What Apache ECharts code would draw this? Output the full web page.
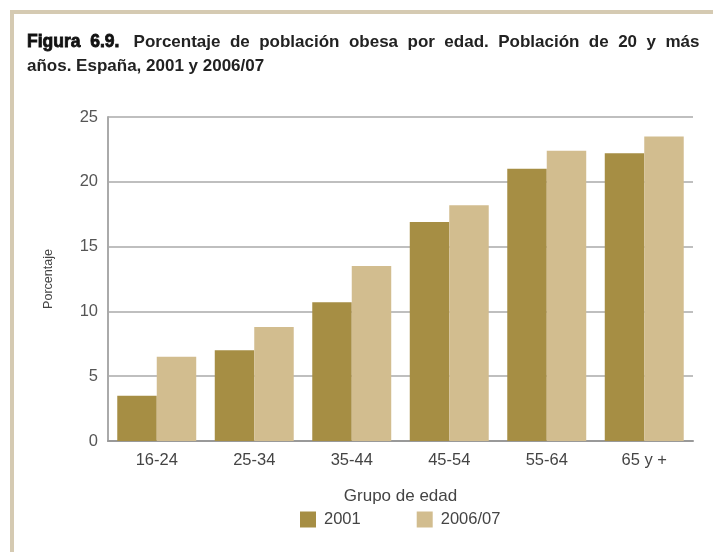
<!DOCTYPE html>
<html>
<head>
<meta charset="utf-8">
<script src="https://cdn.jsdelivr.net/npm/echarts@6/dist/echarts.min.js"></script>
<style>
html,body{margin:0;padding:0;background:#fff;}
#c{width:713px;height:552px;}
</style>
</head>
<body>
<div id="c"></div>
<script>
const categories = ['16-24', '25-34', '35-44', '45-54', '55-64', '65 y +'];
const values2001 = [3.5, 7.0, 10.7, 16.9, 21.0, 22.2];
const values2006 = [6.5, 8.8, 13.5, 18.2, 22.4, 23.5];
const seriesNames = ['2001', '2006/07'];
const yTicks = [0, 5, 10, 15, 20, 25];

const chart = echarts.init(document.getElementById('c'), null, {renderer: 'canvas'});
const font = 'Liberation Sans, Arial, Helvetica, sans-serif';
chart.setOption({
  animation: false,
  backgroundColor: '#fff',
  graphic: [
    {type: 'rect', shape: {x: 10, y: 10, width: 703, height: 4}, style: {fill: '#d5cab2'}, silent: true},
    {type: 'rect', shape: {x: 10, y: 10, width: 4, height: 542}, style: {fill: '#d5cab2'}, silent: true}
  ],
  title: {
    text: '{h|Figura  6.9.}   Porcentaje  de  población  obesa  por  edad.  Población  de  20  y  más\naños. España, 2001 y 2006/07',
    left: 27, top: 30, padding: 0,
    textStyle: {
      fontFamily: font, fontSize: 17, fontWeight: 'bold', color: '#222', lineHeight: 24,
      rich: {h: {fontFamily: font, fontSize: 17.5, fontWeight: 'bold', color: '#111', lineHeight: 24,
        textBorderColor: '#111', textBorderWidth: 0.8}}
    }
  },
  legend: {
    bottom: 19, left: 295,
    itemWidth: 16, itemHeight: 16, itemGap: 56,
    icon: 'rect',
    textStyle: {fontFamily: font, fontSize: 16.5, color: '#444', padding: [0, 0, 0, 3]},
    data: seriesNames
  },
  grid: {left: 108, right: 20, top: 117, bottom: 111},
  xAxis: {
    type: 'category', data: categories,
    name: 'Grupo de edad', nameLocation: 'middle', nameGap: 47,
    nameTextStyle: {fontFamily: font, fontSize: 17, color: '#444'},
    axisLine: {lineStyle: {color: '#999', width: 2}},
    axisTick: {show: false},
    axisLabel: {fontFamily: font, fontSize: 16.5, color: '#444', margin: 11}
  },
  yAxis: {
    type: 'value', min: 0, max: 25, interval: 5,
    name: 'Porcentaje', nameLocation: 'middle', nameGap: 53,
    nameTextStyle: {fontFamily: font, fontSize: 12.5, color: '#444'},
    axisLine: {show: true, lineStyle: {color: '#aaa', width: 2}},
    axisTick: {show: false},
    axisLabel: {fontFamily: font, fontSize: 16.5, color: '#555', margin: 10,
      formatter: v => yTicks.includes(v) ? String(v) : ''},
    splitLine: {lineStyle: {color: '#aaa', width: 1.5}}
  },
  series: [
    {name: seriesNames[0], type: 'bar', data: values2001, barGap: '0%', barCategoryGap: '19%',
      itemStyle: {color: '#a68e44'}},
    {name: seriesNames[1], type: 'bar', data: values2006, barGap: '0%', barCategoryGap: '19%',
      itemStyle: {color: '#d2bd8f'}}
  ]
});
</script>
</body>
</html>
